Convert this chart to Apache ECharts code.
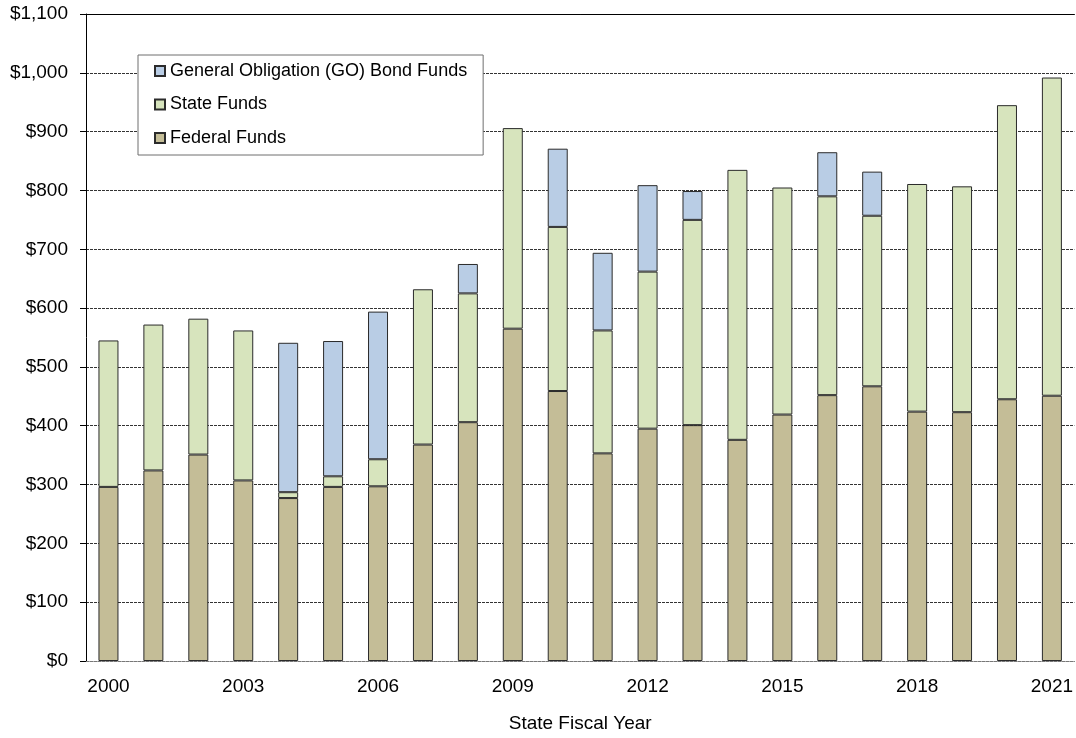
<!DOCTYPE html>
<html>
<head>
<meta charset="utf-8">
<title>Funding by State Fiscal Year</title>
<script src="https://cdn.jsdelivr.net/npm/echarts@6/dist/echarts.min.js"></script>
<style>
	html, body {
		margin: 0;
		padding: 0;
		background: #fff;
	}
	#chart {
		width: 1076px;
		height: 738px;
	}
</style>
</head>
<body>
<div id="chart"></div>
<script>
const years = ['2000', '2001', '2002', '2003', '2004', '2005', '2006', '2007', '2008', '2009', '2010',
	'2011', '2012', '2013', '2014', '2015', '2016', '2017', '2018', '2019', '2020', '2021'];

// $ millions
const federalFunds = [296, 324, 351, 307, 277, 296, 297, 368, 406, 565, 459, 353, 395, 401, 376, 419, 452, 467, 424, 423, 445, 451];
const stateFunds = [249, 248, 231, 255, 10, 18, 46, 264, 219, 341, 279, 209, 267, 349, 459, 386, 338, 290, 387, 384, 500, 541];
const goBondFunds = [null, null, null, null, 254, 230, 251, null, 50, null, 133, 132, 147, 49, null, null, 75, 75, null, null, null, null];

const legendNames = ['General Obligation (GO) Bond Funds', 'State Funds', 'Federal Funds'];

const FONT = 'Arial, "Liberation Sans", sans-serif';

function money(v) {
	return '$' + Number(v).toLocaleString('en-US');
}

function barSeries(name, data, color) {
	return {
		name,
		type: 'bar',
		stack: 'total',
		xAxisIndex: 0,
		barWidth: 20,
		data,
		itemStyle: {
			color,
			borderColor: '#2b2b2b',
			borderWidth: 1,
		},
	};
}

const chart = echarts.init(document.getElementById('chart'), null, { renderer: 'canvas' });

chart.setOption({
	animation: false,
	textStyle: { fontFamily: FONT },
	grid: {
		left: 86,
		right: 0,
		top: 14,
		bottom: 71,
	},
	legend: {
		orient: 'vertical',
		left: 138,
		top: 55,
		data: legendNames,
		padding: [7, 16, 8, 16],
		itemGap: 15.5,
		itemWidth: 10,
		itemHeight: 10,
		icon: 'rect',
		backgroundColor: '#fff',
		borderColor: '#6f6f6f',
		borderWidth: 1,
		textStyle: {
			color: '#000',
			fontSize: 18,
			fontFamily: FONT,
		},
	},
	xAxis: [
		{
			type: 'category',
			data: years,
			name: 'State Fiscal Year',
			nameLocation: 'middle',
			nameGap: 53,
			nameTextStyle: { color: '#000', fontSize: 19, fontFamily: FONT },
			axisLine: {
				lineStyle: { color: '#777', width: 1, type: [3, 1] },
			},
			axisTick: { show: false },
			axisLabel: {
				interval: 2,
				color: '#000',
				fontSize: 19,
				fontFamily: FONT,
				margin: 16,
			},
		},
		{
			// solid frame line along the top of the plot
			type: 'category',
			data: years,
			position: 'top',
			axisLine: { lineStyle: { color: '#000', width: 1 } },
			axisTick: { show: false },
			axisLabel: { show: false },
		},
	],
	yAxis: {
		type: 'value',
		min: 0,
		max: 1100,
		interval: 100,
		axisLine: {
			show: true,
			lineStyle: { color: '#000', width: 1 },
		},
		axisTick: {
			show: true,
			length: 6,
			lineStyle: { color: '#000' },
		},
		axisLabel: {
			color: '#000',
			fontSize: 19,
			fontFamily: FONT,
			margin: 18,
			formatter: (v) => money(v),
		},
		splitLine: {
			lineStyle: { color: '#333', width: 1, type: [3, 1] },
		},
	},
	series: [
		barSeries('Federal Funds', federalFunds, '#c4bd97'),
		barSeries('State Funds', stateFunds, '#d7e4bd'),
		barSeries('General Obligation (GO) Bond Funds', goBondFunds, '#b9cde5'),
	],
});
</script>
</body>
</html>
